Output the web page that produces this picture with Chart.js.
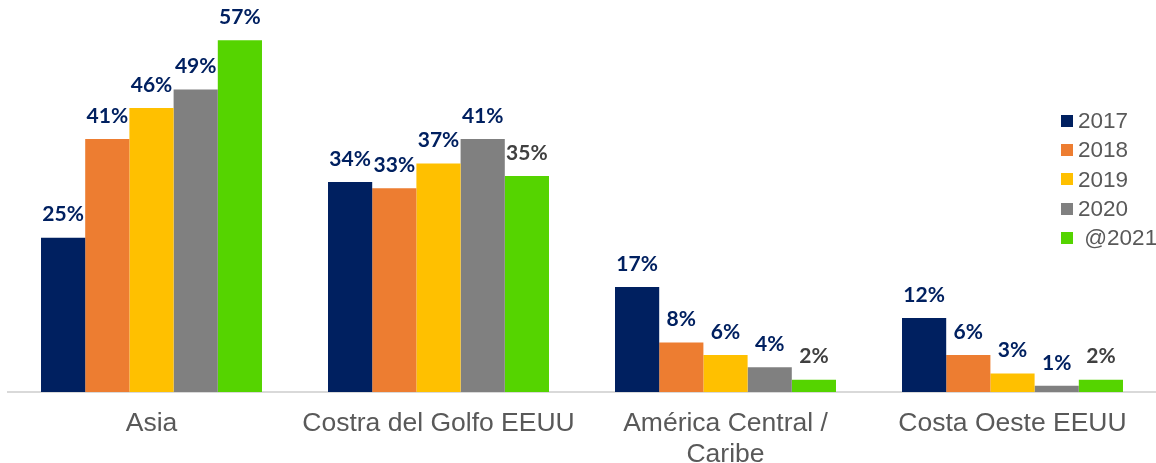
<!DOCTYPE html>
<html>
<head>
<meta charset="utf-8">
<script src="https://cdn.jsdelivr.net/npm/chart.js@4/dist/chart.umd.min.js"></script>
<style>
  html,body{margin:0;padding:0;background:#fff;}
  #wrap{position:relative;width:1156px;height:463px;}
  #legend{position:absolute;left:1061px;top:106px;font-family:"Liberation Sans",Arial,sans-serif;font-size:22.5px;color:#595959;}
  #legend div{height:29.3px;line-height:29.3px;display:flex;align-items:center;white-space:nowrap;}
  #legend span.sw{display:inline-block;width:12px;height:12px;margin-right:5px;}
</style>
</head>
<body>
<div id="wrap">
  <canvas id="c" width="1156" height="463"></canvas>
  <div id="legend"></div>
</div>
<script>
const categories = ["Asia", "Costra del Golfo EEUU", ["América Central /", "Caribe"], "Costa Oeste EEUU"];
const seriesNames = ["2017", "2018", "2019", "2020", " @2021"];
const values2017 = [25, 34, 17, 12];
const values2018 = [41, 33, 8, 6];
const values2019 = [46, 37, 6, 3];
const values2020 = [49, 41, 4, 1];
const values2021 = [57, 35, 2, 2];
const seriesColors = ["#002060", "#ED7D31", "#FFC000", "#808080", "#55D400"];
const labelColors2021 = ["#002060", "#404040", "#404040", "#404040"];

const allValues = [values2017, values2018, values2019, values2020, values2021];

const datasets = allValues.map((vals, i) => ({
  label: seriesNames[i],
  data: vals,
  backgroundColor: seriesColors[i],
  borderWidth: 0,
  categoryPercentage: 0.77,
  barPercentage: 1.0
}));

const valueLabels = {
  id: 'valueLabels',
  afterDatasetsDraw(chart) {
    const ctx = chart.ctx;
    ctx.save();
    ctx.font = 'bold 21px Lato, "Liberation Sans", sans-serif';
    ctx.textAlign = 'center';
    ctx.textBaseline = 'middle';
    chart.data.datasets.forEach((ds, di) => {
      const meta = chart.getDatasetMeta(di);
      meta.data.forEach((el, j) => {
        ctx.fillStyle = di === 4 ? labelColors2021[j] : '#002060';
        ctx.fillText(ds.data[j] + '%', el.x, el.y - 23);
      });
    });
    ctx.restore();
  }
};

new Chart(document.getElementById('c'), {
  type: 'bar',
  data: { labels: categories, datasets },
  options: {
    responsive: false,
    animation: false,
    layout: { padding: { left: 8, right: 0, top: 0, bottom: 0 } },
    plugins: { legend: { display: false }, tooltip: { enabled: false } },
    scales: {
      x: {
        grid: { display: false, drawTicks: false },
        border: { display: true, color: '#d9d9d9', width: 2 },
        ticks: {
          color: '#595959',
          font: { family: '"Liberation Sans", Arial, sans-serif', size: 26.5, lineHeight: 1.17 },
          padding: 16,
          maxRotation: 0,
          autoSkip: false
        },
        afterFit(axis) { axis.height = 71; }
      },
      y: {
        display: false,
        min: 0,
        max: 63.5
      }
    }
  },
  plugins: [valueLabels]
});

const leg = document.getElementById('legend');
seriesNames.forEach((n, i) => {
  const row = document.createElement('div');
  const sw = document.createElement('span');
  sw.className = 'sw';
  sw.style.background = seriesColors[i];
  row.appendChild(sw);
  const t = document.createElement('span');
  t.textContent = n;
  t.style.whiteSpace = 'pre';
  row.appendChild(t);
  leg.appendChild(row);
});
</script>
</body>
</html>
